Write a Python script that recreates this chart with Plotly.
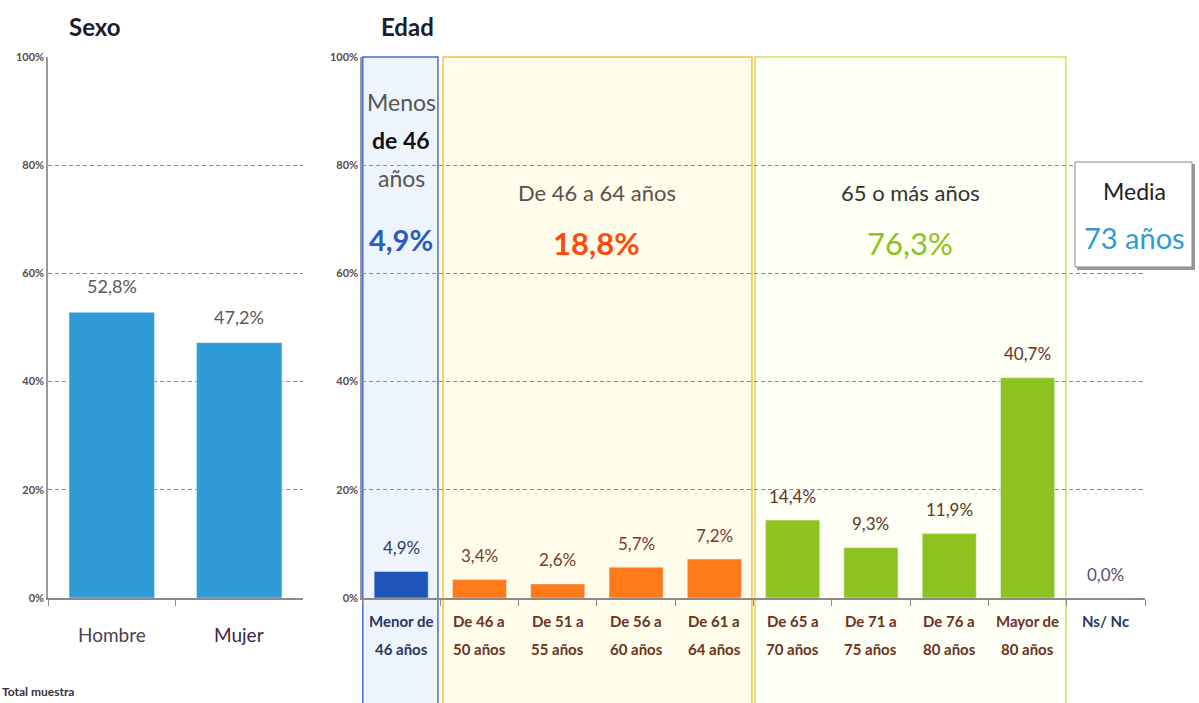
import plotly.graph_objects as go

W, H = 1199, 703

# --- data ---
sexo_cats = ["Hombre", "Mujer"]
sexo_vals = [52.8, 47.2]
sexo_tick_colors = ["#4a3f55", "#3d2350"]

edad_cats = ["Menor de 46 años", "De 46 a 50 años", "De 51 a 55 años", "De 56 a 60 años",
             "De 61 a 64 años", "De 65 a 70 años", "De 71 a 75 años", "De 76 a 80 años",
             "Mayor de 80 años", "Ns/ Nc"]
edad_lines = [("Menor de", "46 años"), ("De 46 a", "50 años"), ("De 51 a", "55 años"),
              ("De 56 a", "60 años"), ("De 61 a", "64 años"), ("De 65 a", "70 años"),
              ("De 71 a", "75 años"), ("De 76 a", "80 años"), ("Mayor de", "80 años"),
              ("Ns/ Nc", "")]
edad_vals = [4.9, 3.4, 2.6, 5.7, 7.2, 14.4, 9.3, 11.9, 40.7, 0.0]

grupos = ["Menos de 46 años", "De 46 a 64 años", "65 o más años"]
grupos_pct = [4.9, 18.8, 76.3]
media_edad = 73

yticks = [0, 20, 40, 60, 80, 100]

BLUE = "#2e9bd6"
DBLUE = "#1f55b8"
ORANGE = "#ff7a1a"
GREEN = "#8dc21f"
edad_colors = [DBLUE] + [ORANGE] * 4 + [GREEN] * 4 + [GREEN]
edad_lbl_colors = ["#2b3a67"] + ["#7a3b2e"] * 4 + ["#5e3526"] * 4 + ["#5b4a6b"]
edad_tick_colors = ["#2a3560"] + ["#6b3222"] * 8 + ["#2a3560"]

FONT = "Lato, Open Sans, sans-serif"

def px_x(p):
    return p / W

def px_y(p):
    return 1 - p / H

y0p, y1p = px_y(598), px_y(57)

fig = go.Figure()
fig.add_trace(go.Bar(x=sexo_cats, y=sexo_vals, marker_color=BLUE, width=0.67,
                     xaxis="x", yaxis="y", showlegend=False, hoverinfo="skip"))
fig.add_trace(go.Bar(x=edad_cats, y=edad_vals, marker_color=edad_colors, width=0.69,
                     xaxis="x2", yaxis="y2", showlegend=False, hoverinfo="skip"))

ann = []
def fmt(v):
    return f"{v:.1f}".replace(".", ",") + "%"

def txt(x, y, text, size, color, xref="paper", yref="paper", **kw):
    d = dict(x=x, y=y, xref=xref, yref=yref, text=text, showarrow=False,
             xanchor="center", yanchor="middle",
             font=dict(size=size, color=color, family=FONT))
    d.update(kw)
    return d

for c, v in zip(sexo_cats, sexo_vals):
    ann.append(txt(c, v, fmt(v), 18, "#595959", "x", "y", yshift=26))
for c, v, col in zip(edad_cats, edad_vals, edad_lbl_colors):
    ann.append(txt(c, v, fmt(v), 17, col, "x2", "y2", yshift=24))

# x tick labels
for c, col in zip(sexo_cats, sexo_tick_colors):
    ann.append(txt(c, px_y(634), c, 19, col, "x"))
for c, (l1, l2), col in zip(edad_cats, edad_lines, edad_tick_colors):
    ann.append(txt(c, px_y(621), f"<b>{l1}</b>", 15, col, "x2"))
    if l2:
        ann.append(txt(c, px_y(649), f"<b>{l2}</b>", 15, col, "x2"))

# titles
ann.append(txt(px_x(95), px_y(27), "<b>Sexo</b>", 24, "#1c1c2a"))
ann.append(txt(px_x(407), px_y(27), "<b>Edad</b>", 24, "#1c1c2a"))
ann.append(txt(0, px_y(691), "<b>Total muestra</b>", 12, "#3a3040", xanchor="left"))

# band texts
ann += [
    txt(0, px_y(102), "Menos", 23, "#555555", "x2"),
    txt(0, px_y(140), "<b>de 46</b>", 23, "#111111", "x2"),
    txt(0, px_y(178), "años", 23, "#555555", "x2"),
    txt(0, px_y(240), f"<b>{fmt(grupos_pct[0])}</b>", 29, "#2a5cc0", "x2"),
    txt(2.5, px_y(193), grupos[1], 22, "#5a5050", "x2"),
    txt(2.5, px_y(243), f"<b>{fmt(grupos_pct[1])}</b>", 31, "#ff4a0a", "x2"),
    txt(6.5, px_y(193), grupos[2], 22, "#333333", "x2"),
    txt(6.5, px_y(243), fmt(grupos_pct[2]), 31, GREEN, "x2"),
    txt(px_x(1134), px_y(191), "Media", 23, "#222222"),
    txt(px_x(1134), px_y(238), f"{media_edad} años", 29, BLUE),
]

shapes = [
    # Menos de 46 band
    dict(type="rect", xref="x2", yref="paper", x0=-0.49, x1=0.47, y0=-0.02, y1=y1p,
         fillcolor="#eef4fb", line=dict(color="#4a6ad0", width=1.5), layer="below"),
    # 46-64 band
    dict(type="rect", xref="x2", yref="paper", x0=0.535, x1=4.48, y0=-0.02, y1=y1p,
         fillcolor="#fffdea", line=dict(color="#f2c14a", width=1.5), layer="below"),
    # 65+ band
    dict(type="rect", xref="x2", yref="paper", x0=4.52, x1=8.49, y0=-0.02, y1=y1p,
         fillcolor="#fdfef4", line=dict(color="#cfe05a", width=1.5), layer="below"),
    # Media box shadow + box
    dict(type="rect", xref="paper", yref="paper", x0=px_x(1077), x1=px_x(1195), y0=px_y(270), y1=px_y(164),
         fillcolor="#9a9a9a", line=dict(width=0), layer="above"),
    dict(type="rect", xref="paper", yref="paper", x0=px_x(1075), x1=px_x(1192), y0=px_y(267), y1=px_y(162),
         fillcolor="white", line=dict(color="#8a8a8a", width=1), layer="above"),
]

tickfont = dict(size=11, color="#5a4a4a", family=FONT)
yax = dict(range=[0, 100], tickvals=yticks, ticktext=[f"<b>{t}%</b>" for t in yticks], tickfont=tickfont,
           showgrid=True, gridcolor="#8a8a8a", griddash="4px,3px", gridwidth=1, zeroline=False,
           showline=True, linecolor="#9a9a9a", linewidth=1.5, ticks="", fixedrange=True,
           automargin=False)
xax = dict(type="category", showticklabels=False, showline=True, linecolor="#8a8a8a", linewidth=1.5,
           ticks="outside", ticklen=6, tickcolor="#8a8a8a", tickson="boundaries", showgrid=False,
           fixedrange=True, automargin=False)

fig.update_layout(
    width=W, height=H, margin=dict(l=0, r=0, t=0, b=0, pad=0, autoexpand=False),
    paper_bgcolor="white", plot_bgcolor="rgba(0,0,0,0)",
    xaxis=dict(xax, domain=[px_x(48), px_x(303)], anchor="y"),
    yaxis=dict(yax, domain=[y0p, y1p], anchor="x"),
    xaxis2=dict(xax, domain=[px_x(362), px_x(1145)], anchor="y2"),
    yaxis2=dict(yax, domain=[y0p, y1p], anchor="x2"),
    annotations=ann, shapes=shapes, bargap=0.3,
)

fig.write_html(
    "out.html",
    config={"displayModeBar": False},
    post_script="document.body.style.margin='0';",
)
